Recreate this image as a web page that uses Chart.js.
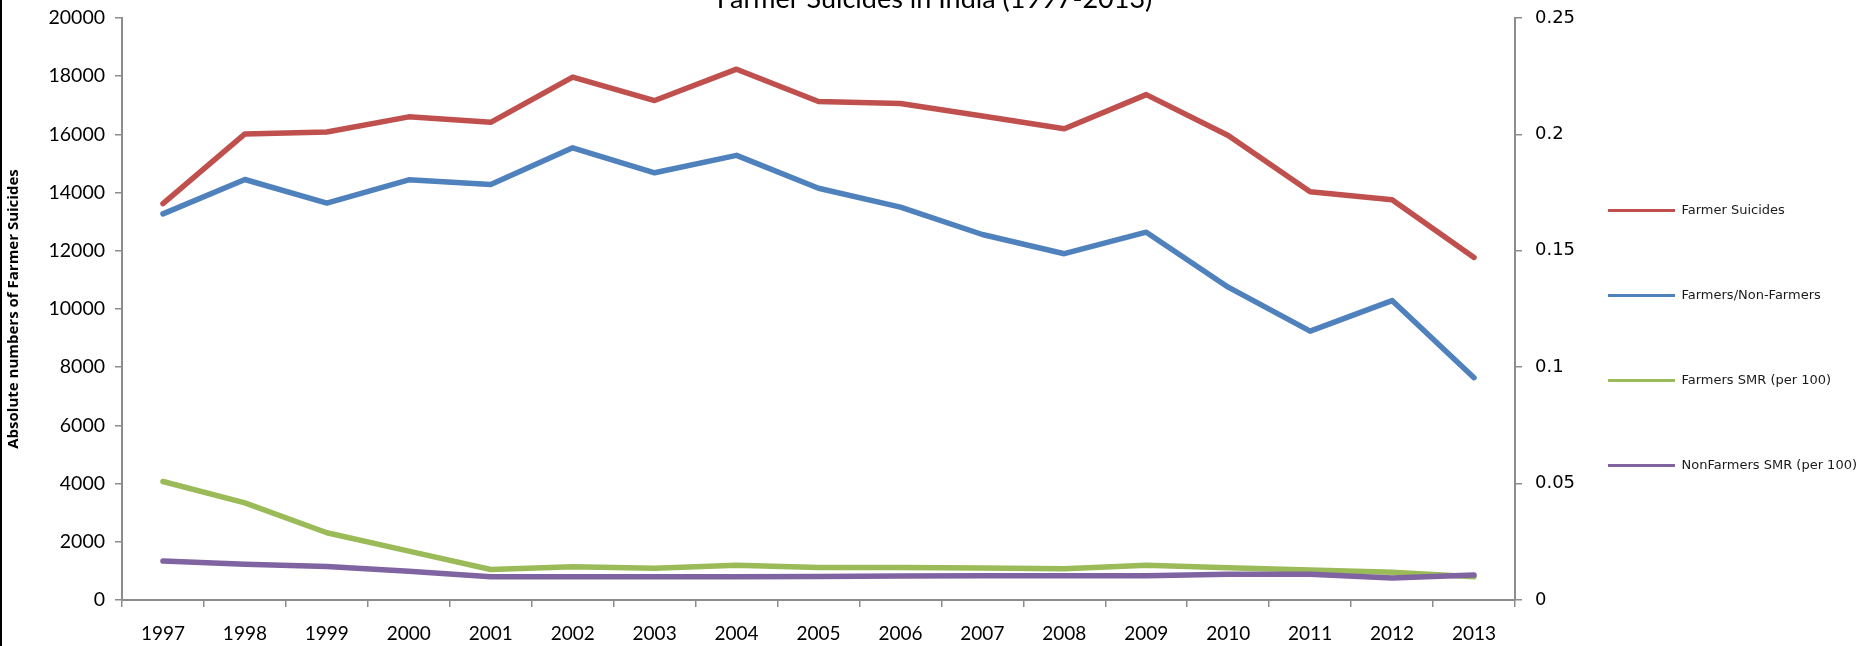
<!DOCTYPE html>
<html><head><meta charset="utf-8">
<script src="https://cdn.jsdelivr.net/npm/chart.js@4.4.1/dist/chart.umd.min.js"></script>
<style>
html,body{margin:0;padding:0;background:#fff;}
#wrap{width:1862px;height:646px;border-left:2px solid #000;}
canvas{display:block;}
</style></head><body>
<div id="wrap"><canvas id="c" width="1862" height="646"></canvas></div>
<script>
const years = ['1997','1998','1999','2000','2001','2002','2003','2004','2005','2006','2007','2008','2009','2010','2011','2012','2013'];
const farmerSuicides = [13622,16015,16082,16603,16415,17971,17164,18241,17131,17060,16632,16196,17368,15964,14027,13754,11772];
const farmersNonFarmers = [13270,14450,13640,14440,14280,15540,14680,15280,14150,13500,12560,11900,12640,10750,9240,10290,7640];
const farmersSMR = [0.0509,0.0417,0.0289,0.0210,0.0131,0.0143,0.0136,0.0149,0.0140,0.0140,0.0137,0.0134,0.0149,0.0139,0.0129,0.0119,0.0100];
const nonFarmersSMR = [0.0167,0.0154,0.0144,0.0124,0.0100,0.0100,0.0100,0.0100,0.0101,0.0103,0.0104,0.0104,0.0104,0.0111,0.0111,0.0094,0.0107];
const leftTicks = {min:0, max:20000, step:2000};
const rightTicks = {min:0, max:0.25, step:0.05};

const gray = '#8c8c8c';
new Chart(document.getElementById('c'), {
  type: 'line',
  data: { labels: years, datasets: [
    {label:'Farmer Suicides', data:farmerSuicides, borderColor:'#C0504D', backgroundColor:'#C0504D', yAxisID:'y', order:1},
    {label:'Farmers/Non-Farmers', data:farmersNonFarmers, borderColor:'#4F81BD', backgroundColor:'#4F81BD', yAxisID:'y', order:1},
    {label:'Farmers SMR (per 100)', data:farmersSMR, borderColor:'#9BBB59', backgroundColor:'#9BBB59', yAxisID:'y1', order:1},
    {label:'NonFarmers SMR (per 100)', data:nonFarmersSMR, borderColor:'#8064A2', backgroundColor:'#8064A2', yAxisID:'y1', order:0}
  ]},
  options: {
    responsive:false, animation:false, devicePixelRatio:1,
    elements:{line:{borderWidth:5.5, tension:0, borderCapStyle:'round', borderJoinStyle:'round', fill:false}, point:{radius:0, hoverRadius:0}},
    layout:{padding:{left:0,right:-3,top:0,bottom:0}},
    plugins:{
      title:{display:true, text:'Farmer Suicides in India (1997-2013)', color:'#000', font:{family:'Lato', size:27, weight:'normal', lineHeight:'6px'}, padding:{top:-4,bottom:16}},
      legend:{position:'right', align:'center',
        title:{display:true, text:'', font:{size:1, lineHeight:'87px'}, padding:0},
        labels:{usePointStyle:true, pointStyleWidth:67, padding:15, color:'#1a1a1a',
          font:{family:'DejaVu Sans', size:13, lineHeight:'70px'},
          generateLabels(chart){
            const items = Chart.defaults.plugins.legend.labels.generateLabels(chart);
            items.sort((a,b)=>a.datasetIndex-b.datasetIndex);
            return items.map(it=>Object.assign({}, it, {text:[it.text], pointStyle:'line', lineWidth:3, lineCap:'butt', strokeStyle:chart.data.datasets[it.datasetIndex].borderColor}));
          }
        }},
      tooltip:{enabled:false}
    },
    scales:{
      x:{type:'category', offset:true,
        grid:{display:true, drawOnChartArea:false, drawTicks:true, tickLength:7, color:gray, lineWidth:1.5, offset:true},
        border:{display:true, color:gray, width:2},
        ticks:{color:'#000', font:{family:'Lato', size:19}, padding:15, maxRotation:0, autoSkip:false},
        afterFit(s){ s.height = 46; }},
      y:{position:'left', min:leftTicks.min, max:leftTicks.max,
        ticks:{stepSize:leftTicks.step, color:'#000', font:{family:'Lato', size:19.5}, padding:10, callback:v=>String(v)},
        grid:{drawOnChartArea:false, tickLength:7, color:gray, lineWidth:1.5},
        border:{color:gray, width:2},
        title:{display:true, text:'Absolute numbers of Farmer Suicides', color:'#000', font:{family:'Open Sans', size:15, weight:'bold'}, padding:{top:3,bottom:0}},
        afterFit(s){ s.width = 120; s.paddingTop = 0; s.paddingBottom = 0; }},
      y1:{position:'right', min:rightTicks.min, max:rightTicks.max,
        ticks:{stepSize:rightTicks.step, color:'#000', font:{family:'DejaVu Sans', size:18}, padding:13, callback:v=>String(+(+v).toFixed(2))},
        grid:{drawOnChartArea:false, tickLength:7, color:gray, lineWidth:1.5},
        border:{color:gray, width:2},
        afterFit(s){ s.width = 78; s.paddingTop = 0; s.paddingBottom = 0; }}
    }
  }
});
</script>
</body></html>
